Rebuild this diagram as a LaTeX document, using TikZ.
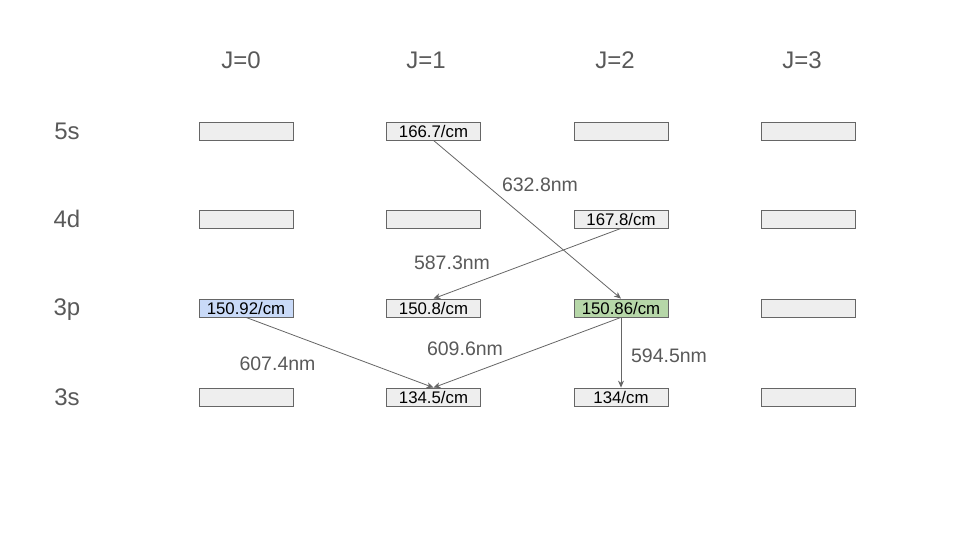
\documentclass[tikz,border=0pt]{standalone}
\usepackage{fontspec}
\setmainfont{Liberation Sans}
\usepackage{tikz}
\usetikzlibrary{arrows.meta}
\usetikzlibrary{positioning}
\definecolor{boxgray}{HTML}{EEEEEE}
\definecolor{boxblue}{HTML}{C9DAF8}
\definecolor{boxgreen}{HTML}{B6D7A8}
\definecolor{linegray}{HTML}{666666}
\definecolor{textgray}{HTML}{595959}

\begin{document}
\begin{tikzpicture}[
    x=1pt, y=-1pt,
    lvl/.style={%
      draw=linegray,
      line width=0.8pt,
      rectangle,
      fill=boxgray,
      minimum width=94pt,
      minimum height=18pt,
      inner sep=0pt,
      font=\fontsize{16.8}{18}\selectfont,
    },
    head/.style={%
      text=textgray,
      font=\fontsize{24}{28}\selectfont,
    },
    lbl/.style={%
      text=textgray,
      font=\fontsize{19.5}{22}\selectfont,
    },
    trans/.style={%
      draw=linegray,
      line width=0.8pt,
      -{Stealth[length=7pt,width=6pt]},
    },
  ]
    \useasboundingbox (0,0) rectangle (960,540);

    % column and row headings
    \node [head] (J0) at (241,60) {J=0};
    \node [head] (J1) at (426,60) {J=1};
    \node [head] (J2) at (615,60) {J=2};
    \node [head] (J3) at (802,60) {J=3};
    \node [head] (R5s) at (67,131) {5s};
    \node [head] (R4d) at (67,219) {4d};
    \node [head] (R3p) at (67,310) {3p};
    \node [head] (R3s) at (67,397) {3s};

    % 5s
    \node [lvl] (A0) at (246,131) {};
    \node [lvl] (A1) at (433.5,131) {166.7/cm};
    \node [lvl] (A2) at (621,131) {};
    \node [lvl] (A3) at (808,131) {};
    % 4d
    \node [lvl] (B0) at (246,219) {};
    \node [lvl] (B1) at (433.5,219) {};
    \node [lvl] (B2) at (621,219) {167.8/cm};
    \node [lvl] (B3) at (808,219) {};
    % 3p
    \node [lvl,fill=boxblue] (C0) at (246,308) {150.92/cm};
    \node [lvl] (C1) at (433.5,308) {150.8/cm};
    \node [lvl,fill=boxgreen] (C2) at (621,308) {150.86/cm};
    \node [lvl] (C3) at (808,308) {};
    % 3s
    \node [lvl] (D0) at (246,397) {};
    \node [lvl] (D1) at (433.5,397) {134.5/cm};
    \node [lvl] (D2) at (621,397) {134/cm};
    \node [lvl] (D3) at (808,397) {};

    % transitions
    \draw [trans] (A1.south) -- (C2.north);
    \draw [trans] (B2.south) -- (C1.north);
    \draw [trans] (C0.south) -- (D1.north);
    \draw [trans] (C2.south) -- (D1.north);
    \draw [trans] (C2.south) -- (D2.north);

    \node [lbl] (L1) at (540,185) {632.8nm};
    \node [lbl] (L2) at (452,263) {587.3nm};
    \node [lbl] (L3) at (277.5,364) {607.4nm};
    \node [lbl] (L4) at (465,349) {609.6nm};
    \node [lbl] (L5) at (669,356) {594.5nm};
\end{tikzpicture}
\end{document}
